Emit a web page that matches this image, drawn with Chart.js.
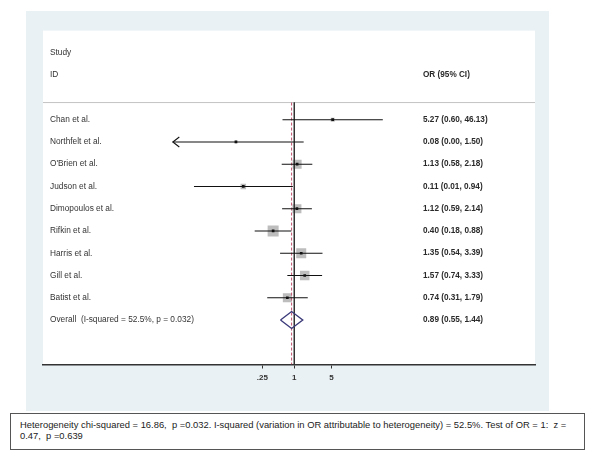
<!DOCTYPE html>
<html>
<head>
<meta charset="utf-8">
<script src="https://cdn.jsdelivr.net/npm/chart.js@4"></script>
<style>
  html, body { margin: 0; padding: 0; background: #ffffff; }
  #wrap { position: relative; width: 600px; height: 471px; overflow: hidden; }
  #chart { position: absolute; left: 0; top: 0; }
  #note {
    position: absolute; left: 10px; top: 413px; width: 575px; height: 37px;
    box-sizing: border-box; border: 1.5px solid #555; background: #fff;
    padding: 4.5px 9px; font: 9.4px "Liberation Sans", Arial, sans-serif; line-height: 11px;
    color: #222; white-space: pre;
  }
</style>
</head>
<body>
<div id="wrap">
  <canvas id="chart" width="600" height="471"></canvas>
  <div id="note">Heterogeneity chi-squared = 16.86,  p =0.032. I-squared (variation in OR attributable to heterogeneity) = 52.5%. Test of OR = 1:  z =
0.47,  p =0.639</div>
</div>
<script>
// ---- data ----
const studies = ["Chan et al.", "Northfelt et al.", "O'Brien et al.", "Judson et al.", "Dimopoulos et al.",
                 "Rifkin et al.", "Harris et al.", "Gill et al.", "Batist et al."];
const orValues = [5.27, 0.08, 1.13, 0.11, 1.12, 0.40, 1.35, 1.57, 0.74];
const ciLower  = [0.60, 0.00, 0.58, 0.013, 0.59, 0.18, 0.54, 0.74, 0.31];
const ciUpper  = [46.13, 1.50, 2.18, 0.94, 2.14, 0.88, 3.39, 3.33, 1.79];
const weights  = [2.6, 1.0, 13.4, 5.0, 13.4, 20.0, 16.5, 14.9, 13.4];
const overallLabel = "Overall  (I-squared = 52.5%, p = 0.032)";
const overallOR = 0.89, overallLo = 0.55, overallHi = 1.44;
const tickValues = [0.25, 1, 5];
const tickLabels = [".25", "1", "5"];
const headerLeft = ["Study", "ID"];
const headerRight = "OR (95% CI)";

// ---- display constants ----
const xClipMin = 0.0052;      // lower limit of the plotted CI range (arrow beyond)
const overallRow = studies.length;
const headerLineRow = -0.77;
const diamondHalf = 0.38;
const fmt = v => v.toFixed(2);
const orText = orValues.map((v, i) => `${fmt(v)} (${fmt(ciLower[i])}, ${fmt(ciUpper[i])})`);
const overallText = `${fmt(overallOR)} (${fmt(overallLo)}, ${fmt(overallHi)})`;

const FONT = '"Liberation Sans", Arial, sans-serif';

const datasets = [];
// CI lines
studies.forEach((s, i) => {
  datasets.push({
    type: 'line', label: 'ci' + i,
    data: [{x: Math.max(ciLower[i], xClipMin), y: i}, {x: ciUpper[i], y: i}],
    borderColor: '#111', borderWidth: 1.1, pointRadius: 0, order: 3
  });
});
// weight boxes
datasets.push({
  type: 'scatter', label: 'boxes',
  data: orValues.map((v, i) => ({x: v, y: i})),
  pointStyle: 'rect',
  pointRadius: ctx => (2.46 * Math.sqrt(weights[ctx.dataIndex])) / Math.SQRT2,
  backgroundColor: '#bdbdbd', borderWidth: 0, order: 5
});
// point estimates
datasets.push({
  type: 'scatter', label: 'points',
  data: orValues.map((v, i) => ({x: v, y: i})),
  pointStyle: 'rect', pointRadius: 1.9,
  backgroundColor: '#111', borderWidth: 0, order: 1
});
// null line at OR = 1
datasets.push({
  type: 'line', label: 'null',
  data: [{x: 1, y: headerLineRow}, {x: 1, y: 11}],
  borderColor: '#333', borderWidth: 1, pointRadius: 0, order: 4
});
// overall dashed line
datasets.push({
  type: 'line', label: 'overallLine',
  data: [{x: overallOR, y: headerLineRow}, {x: overallOR, y: 11}],
  borderColor: '#c0506e', borderWidth: 1, borderDash: [3, 2], pointRadius: 0, order: 4
});
// overall diamond
datasets.push({
  type: 'line', label: 'diamond',
  data: [
    {x: overallLo, y: overallRow}, {x: overallOR, y: overallRow - diamondHalf},
    {x: overallHi, y: overallRow}, {x: overallOR, y: overallRow + diamondHalf},
    {x: overallLo, y: overallRow}
  ],
  borderColor: '#3b3a7a', borderWidth: 1.4, pointRadius: 0, tension: 0,
  fill: false, order: 2
});

const decor = {
  id: 'decor',
  beforeDraw(chart) {
    const {ctx, chartArea: a} = chart;
    ctx.save();
    ctx.fillStyle = '#eaf1f4';
    ctx.fillRect(26, 11, 523, 400);
    ctx.fillStyle = '#ffffff';
    ctx.fillRect(a.left, a.top, a.right - a.left, a.bottom - a.top);
    // header separator
    const yS = chart.scales.y;
    const hy = yS.getPixelForValue(headerLineRow);
    ctx.strokeStyle = '#c4c4c4';
    ctx.lineWidth = 1;
    ctx.beginPath(); ctx.moveTo(a.left, hy); ctx.lineTo(a.right, hy); ctx.stroke();
    ctx.restore();
  },
  afterDatasetsDraw(chart) {
    const {ctx} = chart;
    const xS = chart.scales.x, yS = chart.scales.y;
    const leftX = 50, rightX = 423;
    ctx.save();
    ctx.textBaseline = 'middle';
    ctx.textAlign = 'left';
    ctx.font = '8.3px ' + FONT;
    ctx.fillStyle = '#333';
    ctx.fillText(headerLeft[0], leftX, yS.getPixelForValue(-3));
    ctx.fillText(headerLeft[1], leftX, yS.getPixelForValue(-2));
    studies.forEach((s, i) => ctx.fillText(s, leftX, yS.getPixelForValue(i)));
    ctx.fillText(overallLabel, leftX, yS.getPixelForValue(overallRow));
    ctx.font = 'bold 8.2px ' + FONT;
    ctx.fillStyle = '#2a2a2a';
    ctx.fillText(headerRight, rightX, yS.getPixelForValue(-2));
    orText.forEach((t, i) => ctx.fillText(t, rightX, yS.getPixelForValue(i)));
    ctx.fillText(overallText, rightX, yS.getPixelForValue(overallRow));
    // arrows for clipped CIs
    ctx.strokeStyle = '#111';
    ctx.lineWidth = 1.1;
    ciLower.forEach((lo, i) => {
      if (lo < xClipMin) {
        const px = xS.getPixelForValue(xClipMin), py = yS.getPixelForValue(i);
        ctx.beginPath();
        ctx.moveTo(px + 6.5, py - 5); ctx.lineTo(px, py); ctx.lineTo(px + 6.5, py + 5);
        ctx.stroke();
      }
    });
    ctx.restore();
  }
};

new Chart(document.getElementById('chart'), {
  type: 'scatter',
  data: { datasets },
  options: {
    responsive: false,
    animation: false,
    layout: { padding: { left: 43, right: 65, top: 30.66, bottom: 86.5 } },
    plugins: { legend: { display: false }, tooltip: { enabled: false } },
    scales: {
      x: {
        type: 'logarithmic',
        min: 1.885e-5, max: 33530,
        bounds: 'data',
        afterBuildTicks: scale => { scale.ticks = tickValues.map(v => ({value: v})); },
        afterFit: scale => { scale.height = 20; },
        ticks: {
          autoSkip: false, maxRotation: 0,
          callback: (value) => { const k = tickValues.indexOf(value); return k >= 0 ? tickLabels[k] : ''; },
          font: { family: FONT, size: 8, weight: 'bold' },
          color: '#333', padding: 4
        },
        grid: { display: true, drawOnChartArea: false, drawTicks: true, tickLength: 4, color: '#333', lineWidth: 1 },
        border: { display: true, color: '#333', width: 1.5 }
      },
      y: {
        type: 'linear', reverse: true, min: -4, max: 11, display: false
      }
    }
  },
  plugins: [decor]
});
</script>
</body>
</html>
